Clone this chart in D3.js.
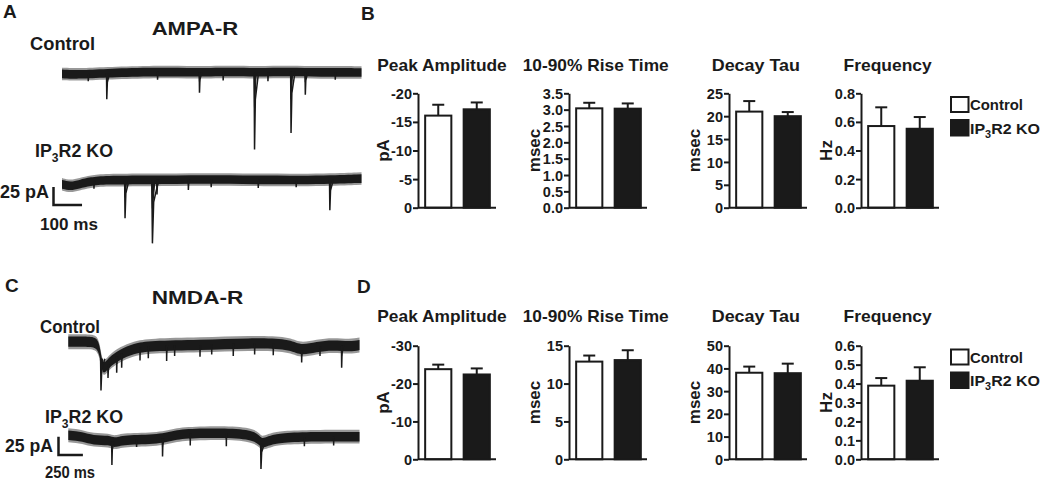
<!DOCTYPE html>
<html><head><meta charset="utf-8">
<script src="https://cdn.jsdelivr.net/npm/d3@7"></script>
<style>
html,body{margin:0;padding:0;background:#fff;}
svg text{font-family:"Liberation Sans",Arial,sans-serif;font-weight:bold;fill:#1a1a1a;}
</style></head>
<body><svg id="fig" width="1050" height="486"></svg>
<script>
// ---------- data ----------
const groups = ["Control", "IP3R2 KO"];
const metrics = ["Peak Amplitude", "10-90% Rise Time", "Decay Tau", "Frequency"];
const units = ["pA", "msec", "msec", "Hz"];

const ampaTicks = [[0,-5,-10,-15,-20],[0,0.5,1.0,1.5,2.0,2.5,3.0,3.5],[0,5,10,15,20,25],[0,0.2,0.4,0.6,0.8]];
const ampaMean  = [[-16.1,-17.2],[3.04,3.03],[21.0,20.0],[0.571,0.552]];
const ampaSem   = [[1.9,1.2],[0.17,0.16],[2.3,0.9],[0.131,0.082]];

const nmdaTicks = [[0,-10,-20,-30],[0,5,10,15],[0,10,20,30,40,50],[0,0.1,0.2,0.3,0.4,0.5,0.6]];
const nmdaMean  = [[-23.8,-22.4],[12.9,13.1],[38.1,37.9],[0.389,0.415]];
const nmdaSem   = [[1.2,1.6],[0.8,1.3],[2.7,4.2],[0.040,0.071]];

// traces: baseline [time ms, current pA]; events [time ms, peak pA, duration ms]
const ampaDuration = 1050;
const ampaCtrlBase = [[0,-2],[60,-3],[150,-1],[300,1],[480,0],[600,1],[680,0],[800,1],[900,0],[1050,0]];
const ampaCtrlEvents = [[157,-37,10],[482,-28,8],[675,-107,14],[803,-84,14],[853,-31,9],
                        [92,-12,5],[335,-10,4],[565,-11,5],[722,-12,5],[958,-10,4]];
const ampaKoBase = [[0,-6],[30,-9],[60,-6],[100,-2],[150,0],[300,0],[500,1],[700,0],[940,0],[1050,2]];
const ampaKoEvents = [[221,-53,14],[317,-88,22],[333,-20,8],[443,-14,6],[939,-42,12],
                      [112,-12,5],[523,-10,4],[688,-11,5],[821,-10,4]];

const nmdaDuration = 2985;
const nmdaCtrlBase = [[0,4.5],[222,4.5],[300,3],[330,-14],[350,-33],[390,-29],[440,-21],[530,-13],[667,-5],[837,-1],[1350,0],[1862,2.7],[2272,1.4],[2374,-8],[2546,-2.3],[2713,0],[2887,-2.3],[2985,0]];
const nmdaCtrlEvents = [[335,-62,40],[407,-45,20],[496,-38,12],[547,-31,12],[735,-21,8],[820,-18,8],
                        [1008,-22,8],[1090,-15,6],[1350,-16,8],[1470,-13,6],[1691,-15,6],[1910,-13,6],
                        [2101,-14,6],[2392,-24,10],[2580,-15,6],[2802,-31,20]];
const nmdaKoBase = [[0,2],[150,0],[250,-5],[427,-4.5],[470,-9],[560,-4],[940,-4],[1100,3],[1350,5],[1900,5],[1975,-9],[2010,-8],[2090,-4],[2204,-1],[2580,0],[2985,0]];
const nmdaKoEvents = [[447,-38.7,20],[966,-27,15],[1975,-44,35],
                      [700,-14,6],[1250,-12,6],[1620,-13,6],[2420,-13,6],[2720,-12,6]];

const scaleBarA = [25, 100];   // pA, ms
const scaleBarC = [25, 250];

// ---------- drawing ----------
const svg = d3.select("#fig");
const ink = "#1a1a1a";

function txt(x, y, s, size, anchor, len) {
  const t = svg.append("text").attr("x", x).attr("y", y).attr("font-size", size)
    .attr("text-anchor", anchor || "start").text(s);
  if (len) t.attr("textLength", len).attr("lengthAdjust", "spacingAndGlyphs");
  return t;
}
function koLabel(x, y, size, len) {
  const t = svg.append("text").attr("x", x).attr("y", y).attr("font-size", size);
  t.append("tspan").text("IP");
  t.append("tspan").attr("font-size", size * 0.68).attr("dy", size * 0.28).text("3");
  t.append("tspan").attr("dy", -size * 0.28).text("R2 KO");
  if (len) t.attr("textLength", len).attr("lengthAdjust", "spacingAndGlyphs");
  return t;
}

function interp(arr, t) {
  const i = d3.bisector(d => d[0]).right(arr, t);
  if (i <= 0) return arr[0][1];
  if (i >= arr.length) return arr[arr.length - 1][1];
  const a = arr[i - 1], b = arr[i];
  return a[1] + (b[1] - a[1]) * (t - a[0]) / (b[0] - a[0]);
}

function drawTrace(xs, ys, base, events, noise) {
  const g = svg.append("g");
  const area = k => d3.area().x(d => xs(d[0])).y0(d => ys(d[1] - noise * k)).y1(d => ys(d[1] + noise * k)).curve(d3.curveBasis);
  g.append("path").datum(base).attr("d", area(1.45)).attr("fill", ink).attr("opacity", 0.45);
  g.append("path").datum(base).attr("d", area(1)).attr("fill", ink);
  const line = d3.line().x(d => xs(d[0])).y(d => ys(d[1]));
  events.forEach(([t, amp, dur]) => {
    const b = interp(base, t);
    const pts = [[t - dur * 0.1, b], [t, amp], [t + dur * 0.2, b + (amp - b) * 0.35], [t + dur, b]];
    g.append("path").attr("d", line(pts)).attr("fill", "none").attr("stroke", ink).attr("stroke-width", 1.5);
    const pts2 = [[t - dur * 0.1, b], [t, b + (amp - b) * 0.45], [t + dur * 0.4, b]];
    g.append("path").attr("d", line(pts2)).attr("fill", ink).attr("stroke", ink).attr("stroke-width", 1.2);
  });
}

function scaleBar(xs, ys, x0, y0, vals) {
  const len = xs(vals[1]) - xs(0), h = ys(-vals[0]) - ys(0);
  svg.append("path").attr("d", `M${x0},${y0 - h}V${y0}H${x0 + len}`)
    .attr("fill", "none").attr("stroke", ink).attr("stroke-width", 2.5);
}

// Panel A
txt(3, 18, "A", 19);
txt(151.7, 35, "AMPA-R", 18, "start", 86.6);
txt(30, 50, "Control", 18, "start", 65);
koLabel(35, 157, 18, 78);
{
  const xs = d3.scaleLinear().domain([0, ampaDuration]).range([62, 361.5]);
  const yc = d3.scaleLinear().domain([0, -100]).range([72.5, 144.5]);
  drawTrace(xs, yc, ampaCtrlBase, ampaCtrlEvents, 6);
  const yk = d3.scaleLinear().domain([0, -100]).range([180, 252]);
  drawTrace(xs, yk, ampaKoBase, ampaKoEvents, 6);
  scaleBar(xs, yk, 53.5, 205, scaleBarA);
}
txt(0, 198, "25 pA", 17.5, "start", 49);
txt(40, 230, "100 ms", 17, "start", 58);

// Panel C
txt(5, 292, "C", 19);
txt(151.7, 304, "NMDA-R", 18, "start", 91.6);
txt(40, 333, "Control", 18, "start", 60);
koLabel(45, 423, 18, 78);
{
  const xs = d3.scaleLinear().domain([0, nmdaDuration]).range([68.3, 359.5]);
  const yc = d3.scaleLinear().domain([0, -100]).range([345, 418.2]);
  drawTrace(xs, yc, nmdaCtrlBase, nmdaCtrlEvents, 7);
  const yk = d3.scaleLinear().domain([0, -100]).range([436.7, 509.9]);
  drawTrace(xs, yk, nmdaKoBase, nmdaKoEvents, 6.5);
  scaleBar(xs, yk, 58.5, 455, scaleBarC);
}
txt(5, 451.7, "25 pA", 17.5, "start", 48);
txt(45, 478, "250 ms", 16, "start", 50);

// Panels B and D
const axisX = [418, 569, 729, 861];
const titleX = [[377.3, 129.4], [522.7, 146], [711.7, 88.3], [843.5, 88.2]];

function barPanel(letterPos, top, bottom, titleY, ticksArr, means, sems, legendY) {
  txt(letterPos[0], letterPos[1], letterPos[2], 19);
  metrics.forEach((m, i) => {
    txt(titleX[i][0], titleY, m, 17, "start", titleX[i][1]);
    const ticks = ticksArr[i];
    const y = d3.scaleLinear().domain([0, ticks[ticks.length - 1]]).range([bottom, top]);
    const dec = ticks.some(v => !Number.isInteger(v));
    const g = svg.append("g").attr("transform", `translate(${axisX[i]},0)`);
    const x = d3.scaleBand().domain(groups).range([1, 78]).paddingInner(0.32).paddingOuter(0.16);
    const bw = x.bandwidth();
    groups.forEach((grp, j) => {
      const mval = means[i][j], e = sems[i][j];
      const end = mval + Math.sign(mval || 1) * e;
      const cx = x(grp) + bw / 2;
      g.append("line").attr("x1", cx).attr("x2", cx).attr("y1", y(mval)).attr("y2", y(end)).attr("stroke", ink).attr("stroke-width", 2);
      g.append("line").attr("x1", cx - 6).attr("x2", cx + 6).attr("y1", y(end)).attr("y2", y(end)).attr("stroke", ink).attr("stroke-width", 2);
    });
    g.selectAll("rect.bar").data(groups).join("rect").attr("class", "bar")
      .attr("x", d => x(d)).attr("width", bw)
      .attr("y", (d, j) => y(means[i][j])).attr("height", (d, j) => y(0) - y(means[i][j]))
      .attr("fill", (d, j) => j === 0 ? "#fff" : ink).attr("stroke", ink).attr("stroke-width", 2);
    g.append("line").attr("x1", 0).attr("x2", 78).attr("y1", y(0)).attr("y2", y(0)).attr("stroke", ink).attr("stroke-width", 2);
    const ax = d3.axisLeft(y).tickValues(ticks).tickSize(5).tickSizeOuter(0).tickPadding(1)
      .tickFormat(v => dec ? v.toFixed(1) : String(v));
    const ag = g.append("g").call(ax);
    ag.attr("font-family", null).attr("font-size", null);
    ag.select(".domain").attr("stroke", ink).attr("stroke-width", 2);
    ag.selectAll(".tick line").attr("stroke", ink).attr("stroke-width", 2);
    ag.selectAll(".tick text").attr("font-size", 14.5).attr("fill", ink).attr("dy", "0.35em");
    svg.append("text").attr("transform", `translate(${axisX[i] - 35},${(top + bottom) / 2}) rotate(-90)`)
      .attr("text-anchor", "middle").attr("dy", "0.36em").attr("font-size", 17).text(units[i]);
  });
  const ly = legendY;
  svg.append("rect").attr("x", 951).attr("y", ly).attr("width", 17.5).attr("height", 15).attr("fill", "#fff").attr("stroke", ink).attr("stroke-width", 2);
  svg.append("rect").attr("x", 951).attr("y", ly + 23).attr("width", 17.5).attr("height", 15.5).attr("fill", ink).attr("stroke", ink).attr("stroke-width", 2);
  txt(970, ly + 13, groups[0], 15.5, "start", 53);
  koLabel(970, ly + 36.5, 15.5, 70);
}

barPanel([361, 20, "B"], 93.3, 207.7, 70.7, ampaTicks, ampaMean, ampaSem, 97);
barPanel([357, 293, "D"], 345.7, 459.3, 322.3, nmdaTicks, nmdaMean, nmdaSem, 349.5);
</script></body></html>
